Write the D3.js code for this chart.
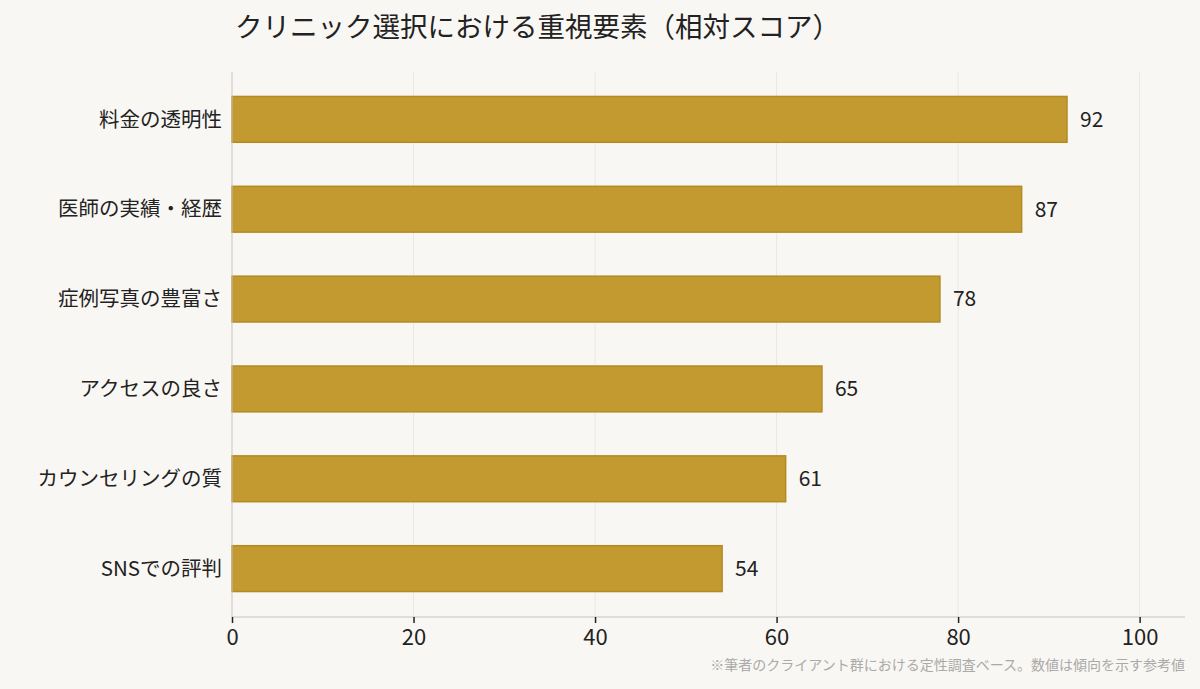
<!DOCTYPE html>
<html><head><meta charset="utf-8">
<script src="https://cdn.jsdelivr.net/npm/d3@7"></script>
<style>body{margin:0;background:#F9F7F3;font-family:"Noto Sans CJK JP","Noto Sans",sans-serif;}</style>
</head><body><svg id="c" width="1200" height="689"></svg>
<script>
const categories = ['料金の透明性','医師の実績・経歴','症例写真の豊富さ','アクセスの良さ','カウンセリングの質','SNSでの評判'];
const values = [92, 87, 78, 65, 61, 54];
const ticks = [0, 20, 40, 60, 80, 100];

const svg = d3.select('#c');
svg.append('rect').attr('width', 1200).attr('height', 689).attr('fill', '#F9F7F3');

const x = d3.scaleLinear().domain([0, 105]).range([232, 1185]);
const y = d3.scaleBand().domain(categories).range([74, 614]).paddingInner(0.49).paddingOuter(0.25);

// grid
svg.selectAll('.grid').data(ticks.slice(1)).enter().append('line')
  .attr('x1', d => x(d)).attr('x2', d => x(d))
  .attr('y1', 72).attr('y2', 617)
  .attr('stroke', '#ebe8e2').attr('stroke-width', 1);

svg.selectAll('.bar').data(values).enter().append('rect')
  .attr('x', x(0)).attr('y', (d, i) => y(categories[i]))
  .attr('width', d => x(d) - x(0)).attr('height', y.bandwidth())
  .attr('fill', '#C39A2F').attr('stroke', '#B38B22').attr('stroke-width', 1.5);

svg.selectAll('.val').data(values).enter().append('text')
  .attr('x', d => x(d) + 13).attr('y', (d, i) => y(categories[i]) + y.bandwidth() / 2)
  .attr('dy', '0.35em').attr('font-size', 21).attr('fill', '#222').text(d => d);

// y axis
svg.append('line').attr('x1', 232).attr('x2', 232).attr('y1', 72).attr('y2', 617)
  .attr('stroke', '#c8c5c0');
svg.selectAll('.cat').data(categories).enter().append('text')
  .attr('x', 222).attr('y', d => y(d) + y.bandwidth() / 2)
  .attr('dy', '0.35em').attr('text-anchor', 'end').attr('font-size', 20.5).attr('fill', '#222').text(d => d);

// x axis
const xa = svg.append('g').attr('transform', 'translate(0,617)')
  .call(d3.axisBottom(x).tickValues(ticks).tickSize(6).tickPadding(6));
xa.select('.domain').attr('stroke', '#c8c5c0').attr('d', 'M232,0H1185');
xa.selectAll('.tick line').attr('stroke', '#222').attr('stroke-width', 1.5);
xa.selectAll('.tick text').attr('font-size', 22).attr('fill', '#222')
  .attr('font-family', '"Noto Sans CJK JP","Noto Sans",sans-serif');

svg.append('text').attr('x', 235).attr('y', 27).attr('dy', '0.35em').attr('text-anchor', 'start')
  .attr('font-size', 27.5).attr('fill', '#222').text('クリニック選択における重視要素（相対スコア）');

svg.append('text').attr('x', 1185).attr('y', 665).attr('dy', '0.35em').attr('text-anchor', 'end')
  .attr('font-size', 14).attr('fill', '#aaa').text('※筆者のクライアント群における定性調査ベース。数値は傾向を示す参考値');
</script></body></html>
